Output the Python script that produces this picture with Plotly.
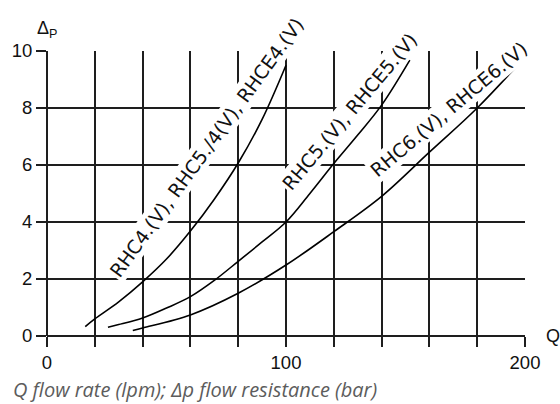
import plotly.graph_objects as go

# Data
q_rhc4 = [16, 20, 30, 40, 50, 60, 70, 80, 90, 100]
dp_rhc4 = [0.33, 0.6, 1.2, 1.9, 2.7, 3.68, 4.8, 6.07, 7.6, 9.5]

q_rhc5 = [25.5, 30, 40, 50, 60, 70, 80, 90, 100, 110, 120, 130, 140, 151.8]
dp_rhc5 = [0.31, 0.4, 0.63, 0.98, 1.38, 1.95, 2.62, 3.3, 4.0, 5.0, 6.05, 7.05, 8.1, 9.68]

q_rhc6 = [35.9, 40, 60, 80, 100, 120, 140, 160, 180, 199.6]
dp_rhc6 = [0.19, 0.28, 0.74, 1.5, 2.49, 3.66, 4.9, 6.45, 8.0, 9.75]

labels = ["RHC4.(V), RHC5./4(V), RHCE4.(V)", "RHC5.(V), RHCE5.(V)", "RHC6.(V), RHCE6.(V)"]
label_q = [66.9, 126.8, 168.2]
label_dp = [6.63, 7.88, 7.96]
label_angle = [-54, -50, -40]

x_ticks = [0, 100, 200]
x_grid_step = 20
y_ticks = [0, 2, 4, 6, 8, 10]
caption = "Q flow rate (lpm); \u0394p flow resistance (bar)"

LINE = "#1e1e1e"
FONT = "DejaVu Sans"
TFONT = "Liberation Sans"

W, H = 560, 404
ML, MR, MT, MB = 47, 35, 51, 68
plot_h = H - MT - MB
plot_w = W - ML - MR

fig = go.Figure()
for q, dp in [(q_rhc4, dp_rhc4), (q_rhc5, dp_rhc5), (q_rhc6, dp_rhc6)]:
    fig.add_trace(go.Scatter(x=q, y=dp, mode="lines", line=dict(color="black", width=1.6, shape="spline"),
                             showlegend=False, hoverinfo="skip"))

for t, xq, yd, ang in zip(labels, label_q, label_dp, label_angle):
    fig.add_annotation(x=xq, y=yd, xref="x", yref="y", text=t, showarrow=False, textangle=ang,
                       font=dict(family=FONT, size=19, color="#111"), bgcolor="white", borderpad=1,
                       xanchor="center", yanchor="middle")

fig.add_annotation(x=0, y=1 + 21 / plot_h, xref="paper", yref="paper", text="\u0394<sub>P</sub>", showarrow=False,
                   font=dict(family=TFONT, size=18, color="#111"), xanchor="center", yanchor="middle")
fig.add_annotation(x=1 + 28 / plot_w, y=0, xref="paper", yref="paper", text="Q", showarrow=False,
                   font=dict(family=TFONT, size=18, color="#111"), xanchor="center", yanchor="middle")
fig.add_annotation(x=-36 / plot_w, y=-53 / plot_h, xref="paper", yref="paper", text=caption, showarrow=False,
                   font=dict(family="Open Sans", size=20, color="#5c5c5c", style="italic"),
                   xanchor="left", yanchor="middle")

fig.update_layout(
    width=W, height=H,
    margin=dict(l=ML, r=MR, t=MT, b=MB, autoexpand=False),
    paper_bgcolor="white", plot_bgcolor="white",
    xaxis=dict(range=[0, 200], tickvals=x_ticks, showgrid=True, gridcolor=LINE,
               gridwidth=1.5, ticks="outside", ticklen=10, tickwidth=1.5, tickcolor=LINE,
               minor=dict(tick0=0, dtick=x_grid_step, ticks="outside", ticklen=10, tickwidth=1.5,
                          tickcolor=LINE, showgrid=True, gridcolor=LINE, gridwidth=1.5),
               zeroline=True, zerolinecolor=LINE, zerolinewidth=2.2, showline=False, automargin=False,
               tickfont=dict(family=TFONT, size=18.5, color="#111")),
    yaxis=dict(range=[0, 10], tickvals=y_ticks, showgrid=True, gridcolor=LINE, gridwidth=1.5,
               ticks="outside", ticklen=10, tickwidth=1.5, tickcolor=LINE,
               zeroline=True, zerolinecolor=LINE, zerolinewidth=1.5, showline=False, automargin=False,
               tickfont=dict(family=TFONT, size=18.5, color="#111")),
)

fig.write_html("out.html", config={"displayModeBar": False},
               post_script="document.body.style.margin='0';document.body.style.overflow='hidden';")
